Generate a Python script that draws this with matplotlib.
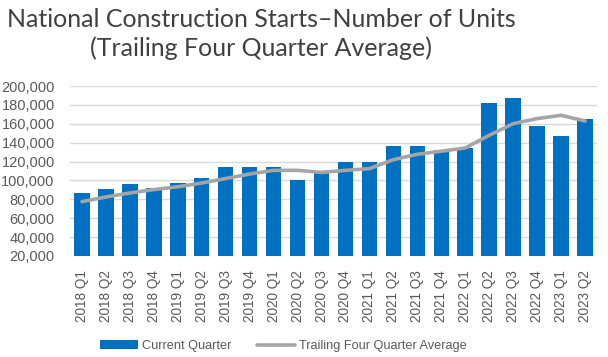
import matplotlib
matplotlib.use("Agg")
import matplotlib.pyplot as plt
from matplotlib.ticker import FuncFormatter, MultipleLocator

categories = ["2018 Q1", "2018 Q2", "2018 Q3", "2018 Q4",
              "2019 Q1", "2019 Q2", "2019 Q3", "2019 Q4",
              "2020 Q1", "2020 Q2", "2020 Q3", "2020 Q4",
              "2021 Q1", "2021 Q2", "2021 Q3", "2021 Q4",
              "2022 Q1", "2022 Q2", "2022 Q3", "2022 Q4",
              "2023 Q1", "2023 Q2"]
current_quarter = [87000, 90500, 96000, 92000, 97500, 103000, 114000, 114000,
                   114000, 100000, 108000, 120000, 120000, 136000, 136000, 132000,
                   134500, 182000, 187000, 158000, 147000, 165000]
trailing_avg = [77500, 82500, 86700, 90300, 93300, 97300, 102000, 106800,
                110700, 110700, 108500, 110700, 112500, 122000, 127700, 131000,
                134400, 147800, 160200, 165500, 169000, 163000]

title = "National Construction Starts\u2013Number of Units\n(Trailing Four Quarter Average)"

fig = plt.figure(figsize=(6.08, 3.57), dpi=100)
ax = fig.add_axes([0.115, 0.283, 0.867, 0.476])

x = list(range(len(categories)))
bars = ax.bar(x, [v - 20000 for v in current_quarter], bottom=20000, width=0.65,
              color="#0070C0", label="Current Quarter", zorder=2)
line, = ax.plot(x, trailing_avg, color="#A5A5A5", lw=2.6, solid_capstyle="round",
                solid_joinstyle="round", label="Trailing Four Quarter Average", zorder=3)

ax.set_ylim(20000, 200000)
ax.set_xlim(-0.5, len(categories) - 0.5)
ax.yaxis.set_major_locator(MultipleLocator(20000))
ax.yaxis.set_major_formatter(FuncFormatter(lambda v, p: f"{int(v):,}"))
ax.grid(axis="y", color="#D9D9D9", lw=1, zorder=0)
for s in ax.spines.values():
    s.set_visible(False)
ax.tick_params(axis="both", length=0)
ax.tick_params(axis="y", pad=11, labelsize=10.5, labelcolor="#595959")
ax.set_xticks(x)
ax.set_xticklabels(categories, rotation=90, fontsize=9.8, color="#595959")
ax.tick_params(axis="x", pad=10)
for lab in ax.get_yticklabels() + ax.get_xticklabels():
    lab.set_fontfamily("Liberation Sans")

fig.text(0.43, 0.905, title, ha="center", va="center", fontsize=18,
         color="#404040", family="Lato", linespacing=1.3)

leg = fig.legend(handles=[bars, line], loc="center left", bbox_to_anchor=(0.145, 0.03),
                 ncol=2, frameon=False, handlelength=3.0, columnspacing=2.0,
                 handletextpad=0.3, prop={"family": "Liberation Sans", "size": 9.2})
for t in leg.get_texts():
    t.set_color("#595959")

fig.savefig("out.png", dpi=100)
